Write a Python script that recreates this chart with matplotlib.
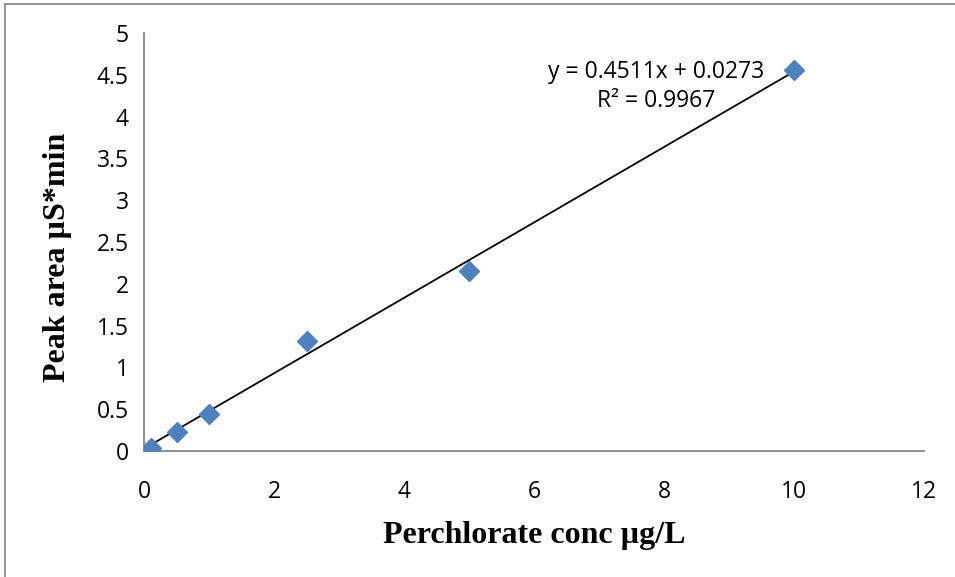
import matplotlib
matplotlib.use('Agg')
import matplotlib.pyplot as plt
from matplotlib.patches import Rectangle

# calibration standards
conc = [0.1, 0.5, 1.0, 2.5, 5.0, 10.0]
area = [0.04, 0.23, 0.44, 1.32, 2.15, 4.56]
slope = 0.4511
intercept = 0.0273
r2 = 0.9967
xticks = [0, 2, 4, 6, 8, 10, 12]
yticks = [0, 0.5, 1, 1.5, 2, 2.5, 3, 3.5, 4, 4.5, 5]

fig = plt.figure(figsize=(9.55, 5.77), dpi=100)
ax = fig.add_axes([144 / 955, 1 - 451 / 577, 780 / 955, 418 / 577])

# trendline
x0, x1 = min(conc), max(conc)
ax.plot([x0, x1], [slope * x0 + intercept, slope * x1 + intercept],
        color='black', lw=1.3, zorder=2)
ax.plot(conc, area, linestyle='none', marker='D', ms=10.5,
        color='#4F81BD', mec='#4F81BD', zorder=3)

ax.set_xlim(0, 12)
ax.set_ylim(0, 5)
ax.set_xticks(xticks)
ax.set_yticks(yticks)
ax.set_xticklabels([str(t) for t in xticks])
ax.set_yticklabels([('%g' % t) for t in yticks])

tick_font = 'Open Sans'
for lab in ax.get_xticklabels() + ax.get_yticklabels():
    lab.set_fontfamily(tick_font)
    lab.set_fontsize(16.5)
ax.tick_params(axis='both', length=0)
ax.tick_params(axis='y', pad=11)
ax.tick_params(axis='x', pad=21)

for side in ['top', 'right']:
    ax.spines[side].set_visible(False)
for side in ['left', 'bottom']:
    ax.spines[side].set_color('#868686')
    ax.spines[side].set_linewidth(1.3)

ax.set_xlabel('Perchlorate conc µg/L', family='Liberation Serif',
              fontweight='bold', fontsize=23, labelpad=12)
ax.set_ylabel('Peak area µS*min', family='Liberation Serif',
              fontweight='bold', fontsize=23)
ax.yaxis.set_label_coords(-0.092, 0.464)

ax.text(7.88, 4.36, 'y = %.4fx + %.4f\nR² = %.4f' % (slope, intercept, r2),
        ha='center', va='center', family=tick_font, fontsize=16.5,
        linespacing=1.25)

# outer frame
fig.add_artist(Rectangle((5 / 955, -0.5), 2, 0.5 + 1 - 4 / 577,
                         transform=fig.transFigure, fill=False,
                         edgecolor='#8c8c8c', lw=1.3))

fig.savefig('out.png', dpi=100)
